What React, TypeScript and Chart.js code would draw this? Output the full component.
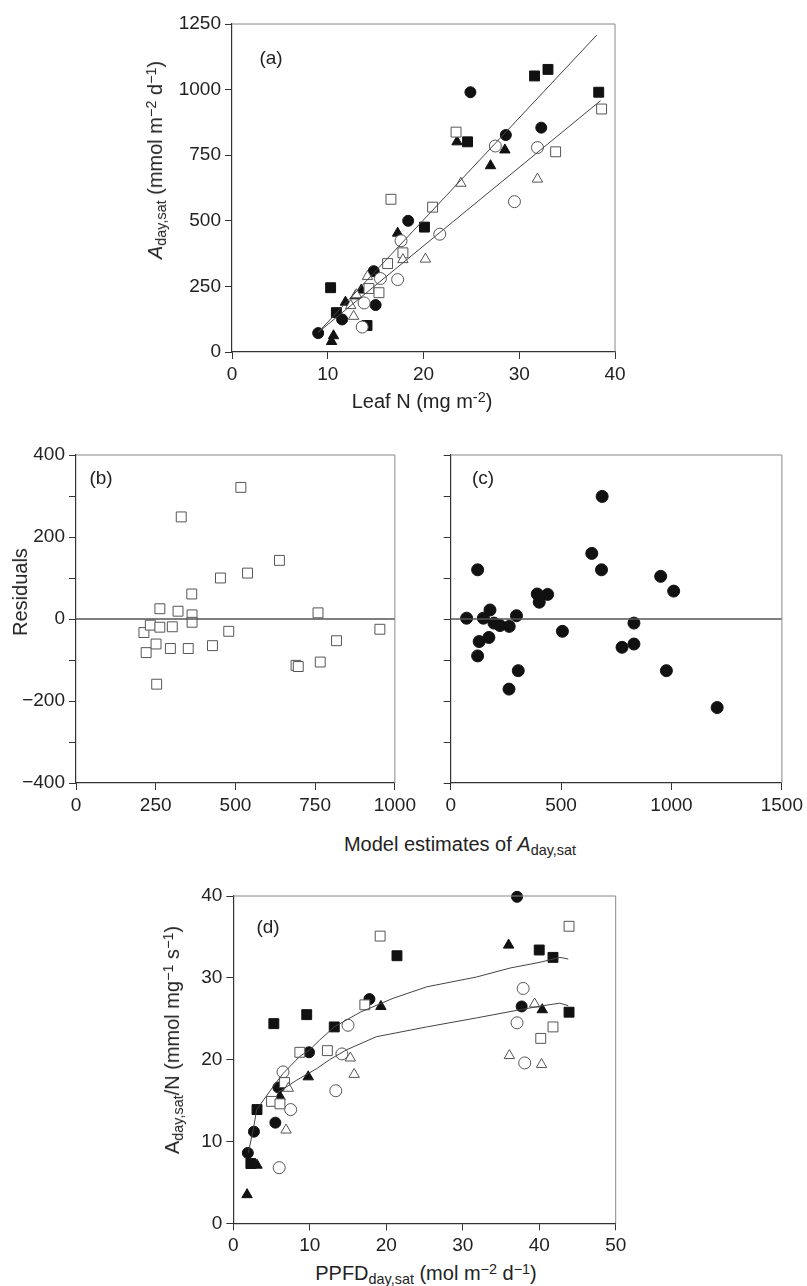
import React, { useEffect, useRef } from "react";
import { Chart, registerables } from "chart.js";
Chart.register(...registerables);

const FONT = "'Liberation Sans', Arial, Helvetica, sans-serif";

// ---------- Panel (a): Aday,sat vs leaf N ----------
const aFilledCircleN = [24.9, 32.3, 28.6, 18.4, 14.8, 15.0, 11.5, 9.0];
const aFilledCircleA = [990, 855, 827, 500, 308, 179, 124, 72];
const aOpenCircleN = [27.5, 31.9, 29.5, 21.7, 17.65, 15.5, 17.3, 13.8, 13.6];
const aOpenCircleA = [785, 779, 573, 449, 424, 280, 276, 187, 95];
const aFilledSquareN = [31.6, 33.0, 38.3, 24.6, 20.1, 10.3, 10.9, 14.1];
const aFilledSquareA = [1052, 1077, 990, 801, 476, 245, 150, 101];
const aOpenSquareN = [38.6, 23.4, 33.8, 16.6, 20.95, 17.85, 16.25, 14.3, 15.35];
const aOpenSquareA = [926, 838, 763, 582, 552, 378, 337, 242, 226];
const aFilledTriN = [23.5, 28.5, 27.0, 17.3, 13.5, 12.9, 11.85, 10.6, 10.4];
const aFilledTriA = [801, 770, 710, 453, 236, 214, 190, 62, 40];
const aOpenTriN = [23.9, 31.9, 17.85, 20.2, 14.15, 13.0, 12.4, 12.7];
const aOpenTriA = [643, 659, 352, 354, 288, 218, 177, 136];
const aFitUpperN = [9.0, 38.1];
const aFitUpperA = [75, 1208];
const aFitLowerN = [9.0, 38.5];
const aFitLowerA = [75, 958];
const aXTicks = [0, 10, 20, 30, 40];
const aYTicks = [0, 250, 500, 750, 1000, 1250];

// ---------- Panel (b): residuals vs model estimates ----------
const bModel = [517, 330, 638, 453, 538, 363, 263, 320, 364, 364, 759, 213, 233, 263, 302, 479, 953, 220, 251, 296, 352, 428, 817, 690, 697, 766, 253];
const bResid = [321, 249, 143, 100, 112, 61, 25, 19, 10, -8, 15, -33, -15, -20, -19, -30, -25, -82, -61, -72, -72, -65, -53, -113, -116, -105, -159];
const bZeroX = [0, 1000];
const bZeroY = [0, 0];

// ---------- Panel (c) ----------
const cModel = [686, 639, 683, 122, 951, 1010, 392, 439, 401, 178, 72, 148, 298, 196, 223, 265, 129, 173, 122, 506, 306, 264, 830, 830, 776, 977, 1207];
const cResid = [299, 160, 120, 120, 104, 68, 61, 60, 41, 22, 2, 2, 8, -10, -16, -18, -55, -45, -90, -30, -126, -171, -10, -61, -69, -126, -216];
const cZeroX = [0, 1500];
const cZeroY = [0, 0];

// ---------- Panel (d): Aday,sat/N vs PPFD ----------
const dFilledCircleP = [37.1, 17.8, 37.7, 9.9, 5.9, 5.5, 2.7, 1.9];
const dFilledCircleR = [39.9, 27.4, 26.5, 20.9, 16.6, 12.3, 11.2, 8.6];
const dOpenCircleP = [37.9, 15.0, 37.1, 14.2, 38.1, 6.5, 7.5, 13.4, 6.0];
const dOpenCircleR = [28.7, 24.2, 24.5, 20.7, 19.6, 18.5, 13.9, 16.2, 6.8];
const dFilledSquareP = [21.4, 40.0, 41.8, 43.9, 5.3, 9.6, 13.2, 3.1, 2.3];
const dFilledSquareR = [32.7, 33.4, 32.5, 25.8, 24.4, 25.5, 24.0, 13.9, 7.3];
const dOpenSquareP = [43.9, 19.2, 17.2, 41.8, 40.2, 8.7, 12.3, 6.7, 5.0, 6.1];
const dOpenSquareR = [36.3, 35.1, 26.7, 24.0, 22.6, 20.9, 21.1, 17.2, 14.9, 14.6];
const dFilledTriP = [36.0, 19.3, 40.4, 9.8, 6.1, 3.1, 1.8];
const dFilledTriR = [34.0, 26.5, 26.1, 17.9, 15.5, 7.1, 3.5];
const dOpenTriP = [39.4, 15.3, 36.1, 40.3, 15.8, 7.2, 6.9];
const dOpenTriR = [26.8, 20.2, 20.5, 19.4, 18.2, 16.5, 11.4];
const dUpperP = [1.96, 2.6, 3.06, 5.2, 6.5, 8.7, 10.0, 11.3, 13.2, 16.6, 20.9, 25.3, 31.8, 36.2, 40.1, 42.7, 43.8];
const dUpperR = [8.6, 11.4, 13.9, 16.7, 18.3, 20.4, 21.2, 22.4, 24.0, 25.8, 27.5, 28.9, 30.1, 31.2, 31.9, 32.5, 32.3];
const dLowerP = [5.7, 8.3, 10.9, 12.6, 14.8, 18.7, 25.3, 31.8, 37.5, 40.5, 42.7, 43.8];
const dLowerR = [15.9, 17.5, 18.9, 20.0, 21.2, 22.8, 24.0, 25.1, 26.1, 26.6, 26.9, 26.6];

// ---------- helpers ----------
const pts = (xs: number[], ys: number[]) => xs.map((x, i) => ({ x, y: ys[i] }));
const fmt = (v: number) => (v < 0 ? "\u2212" + Math.abs(v) : String(v));

function marker(xs: number[], ys: number[], style: string, filled: boolean, radius: number) {
  return {
    data: pts(xs, ys),
    pointStyle: style,
    pointRadius: radius,
    pointHoverRadius: radius,
    pointBackgroundColor: filled ? "#111" : "#fff",
    pointBorderColor: filled ? "#111" : "#555",
    pointBorderWidth: 1,
    showLine: false,
    clip: false,
  };
}
function line(xs: number[], ys: number[], color = "#444", width = 1) {
  return {
    data: pts(xs, ys),
    showLine: true,
    pointRadius: 0,
    borderColor: color,
    borderWidth: width,
    tension: 0,
    fill: false,
    clip: false,
  };
}

function axis(min: number, max: number, step: number, labelFn: (v: number) => string) {
  return {
    type: "linear",
    min,
    max,
    border: { display: true, color: "#333", width: 1.2 },
    grid: { display: true, drawOnChartArea: false, drawTicks: true, tickLength: 7, color: "#333", tickColor: "#333", lineWidth: 1 },
    ticks: {
      stepSize: step,
      autoSkip: false,
      maxRotation: 0,
      minRotation: 0,
      padding: 4,
      color: "#222",
      font: { family: FONT, size: 19 },
      callback: (v: number) => labelFn(v),
    },
  };
}

const boxPlugin = {
  id: "box",
  afterDraw(chart: any) {
    const { ctx, chartArea } = chart;
    const { left, right, top, bottom } = chartArea;
    ctx.save();
    ctx.strokeStyle = "#888";
    ctx.lineWidth = 1;
    ctx.beginPath();
    ctx.moveTo(left, top);
    ctx.lineTo(right, top);
    ctx.lineTo(right, bottom);
    ctx.stroke();
    ctx.restore();
  },
};

function makeConfig(o: any) {
  return {
    type: "scatter",
    data: { datasets: o.datasets },
    options: {
      responsive: false,
      animation: false,
      devicePixelRatio: 1,
      events: [],
      layout: { padding: { top: o.padTop, right: o.padRight, left: 0, bottom: 0 } },
      plugins: { legend: { display: false }, tooltip: { enabled: false } },
      scales: {
        x: { ...o.x, afterFit: (s: any) => { s.height = o.xHeight; } },
        y: { ...o.y, afterFit: (s: any) => { s.width = o.yWidth; } },
      },
    },
    plugins: [boxPlugin],
  };
}

function Panel({ left, top, width, height, config }: any) {
  const ref = useRef<HTMLCanvasElement>(null);
  useEffect(() => {
    const c = new Chart(ref.current as HTMLCanvasElement, config);
    return () => c.destroy();
  }, []);
  return (
    <canvas
      ref={ref}
      width={width}
      height={height}
      style={{ position: "absolute", left, top, width, height }}
    />
  );
}

function Txt({ x, y, rot, size = 20, children }: any) {
  return (
    <div
      style={{
        position: "absolute",
        left: x,
        top: y,
        transform: `translate(-50%, -50%)${rot ? " rotate(-90deg)" : ""}`,
        whiteSpace: "nowrap",
        fontFamily: FONT,
        fontSize: size,
        lineHeight: 1,
        color: "#222",
      }}
    >
      {children}
    </div>
  );
}
const subS = { fontSize: "0.72em", lineHeight: 0, verticalAlign: "-0.3em" };
const supS = { fontSize: "0.72em", lineHeight: 0, verticalAlign: "0.45em" };

const inList = (list: number[]) => (v: number) => (list.includes(v) ? fmt(v) : "");

export default function App() {
  const cfgA = makeConfig({
    datasets: [
      line(aFitUpperN, aFitUpperA),
      line(aFitLowerN, aFitLowerA),
      marker(aOpenTriN, aOpenTriA, "triangle", false, 6),
      marker(aOpenSquareN, aOpenSquareA, "rect", false, 7),
      marker(aOpenCircleN, aOpenCircleA, "circle", false, 6),
      marker(aFilledTriN, aFilledTriA, "triangle", true, 6),
      marker(aFilledSquareN, aFilledSquareA, "rect", true, 7),
      marker(aFilledCircleN, aFilledCircleA, "circle", true, 5.5),
    ],
    x: axis(0, 40, 10, inList(aXTicks)),
    y: axis(0, 1250, 250, inList(aYTicks)),
    yWidth: 102,
    xHeight: 68,
    padTop: 24,
    padRight: 25,
  });
  const cfgB = makeConfig({
    datasets: [
      line(bZeroX, bZeroY, "#555", 1.5),
      marker(bModel, bResid, "rect", false, 7),
    ],
    x: axis(0, 1000, 250, (v) => fmt(v)),
    y: axis(-400, 400, 100, (v) => (v % 200 === 0 ? fmt(v) : "")),
    yWidth: 76,
    xHeight: 47,
    padTop: 455 - 430,
    padRight: 420 - 406,
  });
  const cfgC = makeConfig({
    datasets: [
      line(cZeroX, cZeroY, "#555", 1.5),
      marker(cModel, cResid, "circle", true, 6),
    ],
    x: axis(0, 1500, 500, (v) => fmt(v)),
    y: axis(-400, 400, 100, () => ""),
    yWidth: 30.7,
    xHeight: 47,
    padTop: 455 - 430,
    padRight: 807 - 782.3,
  });
  const cfgD = makeConfig({
    datasets: [
      line(dUpperP, dUpperR),
      line(dLowerP, dLowerR),
      marker(dOpenTriP, dOpenTriR, "triangle", false, 6),
      marker(dOpenSquareP, dOpenSquareR, "rect", false, 7),
      marker(dOpenCircleP, dOpenCircleR, "circle", false, 6),
      marker(dFilledTriP, dFilledTriR, "triangle", true, 6),
      marker(dFilledSquareP, dFilledSquareR, "rect", true, 7),
      marker(dFilledCircleP, dFilledCircleR, "circle", true, 5.5),
    ],
    x: axis(0, 50, 10, (v) => fmt(v)),
    y: axis(0, 40, 10, (v) => fmt(v)),
    yWidth: 103.3,
    xHeight: 1260 - 1223.3,
    padTop: 896 - 870,
    padRight: 640 - 615.7,
  });

  return (
    <div style={{ position: "absolute", left: 0, top: 0, width: 807, height: 1286, background: "#fff", overflow: "hidden" }}>
      <Panel left={130} top={0} width={510} height={420} config={cfgA} />
      <Panel left={0} top={430} width={420} height={400} config={cfgB} />
      <Panel left={420} top={430} width={387} height={400} config={cfgC} />
      <Panel left={130} top={870} width={510} height={390} config={cfgD} />

      <Txt x={271} y={57} size={19}>(a)</Txt>
      <Txt x={101} y={477} size={19}>(b)</Txt>
      <Txt x={483} y={477} size={19}>(c)</Txt>
      <Txt x={268} y={926} size={19}>(d)</Txt>

      <Txt x={155} y={160} rot>
        <i>A</i><span style={subS}>day,sat</span> (mmol m<span style={supS}>−2</span> d<span style={supS}>−1</span>)
      </Txt>
      <Txt x={422} y={401}>
        Leaf N (mg m<span style={supS}>-2</span>)
      </Txt>
      <Txt x={20} y={592} rot>Residuals</Txt>
      <Txt x={460} y={844}>
        Model estimates of <i>A</i><span style={subS}>day,sat</span>
      </Txt>
      <Txt x={172} y={1040} rot>
        A<span style={subS}>day,sat</span>/N (mmol mg<span style={supS}>−1</span> s<span style={supS}>−1</span>)
      </Txt>
      <Txt x={426} y={1273}>
        PPFD<span style={subS}>day,sat</span> (mol m<span style={supS}>−2</span> d<span style={supS}>−1</span>)
      </Txt>
    </div>
  );
}
